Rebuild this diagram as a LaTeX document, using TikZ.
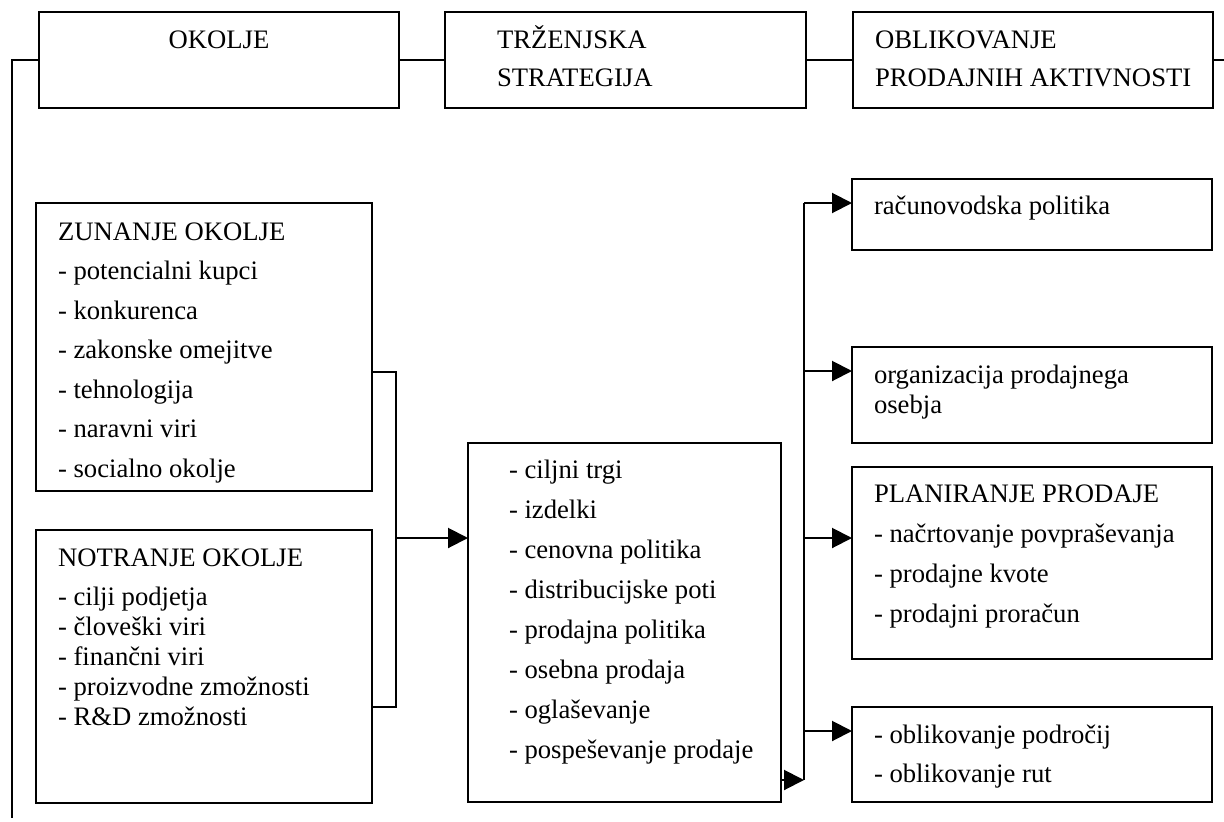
\documentclass[tikz,border=0pt]{standalone}
\usepackage{fontspec}
\setmainfont{Liberation Serif}
\usetikzlibrary{arrows.meta,fit}
\begin{document}
\begin{tikzpicture}[x=0.75pt,y=-0.75pt,
  line width=1.5pt,
  box/.style={draw, rectangle, inner sep=0pt, outer sep=0pt, line width=1.5pt},
  txt/.style={anchor=base west, inner sep=0pt, font=\fontsize{20}{24}\selectfont},
  ctxt/.style={anchor=base, inner sep=0pt, font=\fontsize{20}{24}\selectfont},
  link/.style={line width=1.5pt},
  arr/.style={link, -{Triangle[length=15pt,width=15pt]}}]
\useasboundingbox (0,0) rectangle (1224,821);

% top row
\node[box, fit={(39,12) (399,108)}] (okolje) {};
\node[box, fit={(445,12) (806,108)}] (trz) {};
\node[box, fit={(853,12) (1213,108)}] (oblik) {};
\node[ctxt] (okolje-t) at (219,48) {OKOLJE};
\node[txt] (trz-1) at (496,48) {TRŽENJSKA};
\node[txt] (trz-2) at (496,86) {STRATEGIJA};
\node[txt] (oblik-1) at (874,48) {OBLIKOVANJE};
\node[txt] (oblik-2) at (874,86) {PRODAJNIH AKTIVNOSTI};

% environment boxes
\node[box, fit={(36,203) (372,491)}] (zun) {};
\node[box, fit={(36,530) (372,803)}] (notr) {};
\begin{scope}
  \clip (36,203) rectangle (372,482);
  \foreach \t [count=\i] in {ZUNANJE OKOLJE, - potencialni kupci, - konkurenca,
      - zakonske omejitve, - tehnologija, - naravni viri, - socialno okolje}
    \node[txt] (zun-\i) at (57,{240+39.5*(\i-1)}) {\t};
\end{scope}
\node[txt] (notr-0) at (57,566) {NOTRANJE OKOLJE};
\foreach \t [count=\i] in {- cilji podjetja, - človeški viri, - finančni viri,
    - proizvodne zmožnosti, - R\&D zmožnosti}
  \node[txt] (notr-\i) at (57,{605+30*(\i-1)}) {\t};

% marketing mix box
\node[box, fit={(468,443) (781,802)}] (mix) {};
\foreach \t [count=\i] in {- ciljni trgi, - izdelki, - cenovna politika,
    - distribucijske poti, - prodajna politika, - osebna prodaja,
    - oglaševanje, - pospeševanje prodaje}
  \node[txt] (mix-\i) at (508,{478+40*(\i-1)}) {\t};

% sales activity boxes
\node[box, fit={(852,179) (1212,250)}] (rac) {};
\node[box, fit={(852,347) (1212,443)}] (org) {};
\node[box, fit={(852,467) (1212,659)}] (plan) {};
\node[box, fit={(852,707) (1212,802)}] (ter) {};
\node[txt] (rac-1) at (873,214) {računovodska politika};
\node[txt] (org-1) at (873,383) {organizacija prodajnega};
\node[txt] (org-2) at (873,413) {osebja};
\foreach \t [count=\i] in {PLANIRANJE PRODAJE, - načrtovanje povpraševanja,
    - prodajne kvote, - prodajni proračun}
  \node[txt] (plan-\i) at (873,{502+40*(\i-1)}) {\t};
\node[txt] (ter-1) at (873,743) {- oblikovanje področij};
\node[txt] (ter-2) at (873,782) {- oblikovanje rut};

% junction points
\coordinate (lt) at (12,60);
\coordinate (lb) at (12,818);
\coordinate (rt) at (1224,60);
\coordinate (ja) at (396,372);
\coordinate (jb) at (396,707);
\coordinate (jm) at (396,538);
\coordinate (t1) at (804,203);
\coordinate (t2) at (804,371);
\coordinate (t3) at (804,538);
\coordinate (t4) at (804,731);
\coordinate (t5) at (804,780);

% top chain
\draw[link] (okolje.west) -- (lt) -- (lb);
\draw[link] (okolje.east) -- (trz.west);
\draw[link] (trz.east) -- (oblik.west);
\draw[link] (oblik.east) -- (rt);

% bracket joining both environments
\draw[link] (zun.east |- ja) -- (ja) -- (jb) -- (notr.east |- jb);
\draw[arr] (jm) -- (mix.west |- jm);

% distribution trunk
\draw[arr] (mix.east |- t5) -- (t5);
\draw[link] (t5) -- (t1);
\draw[arr] (t1) -- (rac.west |- t1);
\draw[arr] (t2) -- (org.west |- t2);
\draw[arr] (t3) -- (plan.west |- t3);
\draw[arr] (t4) -- (ter.west |- t4);
\end{tikzpicture}
\end{document}
